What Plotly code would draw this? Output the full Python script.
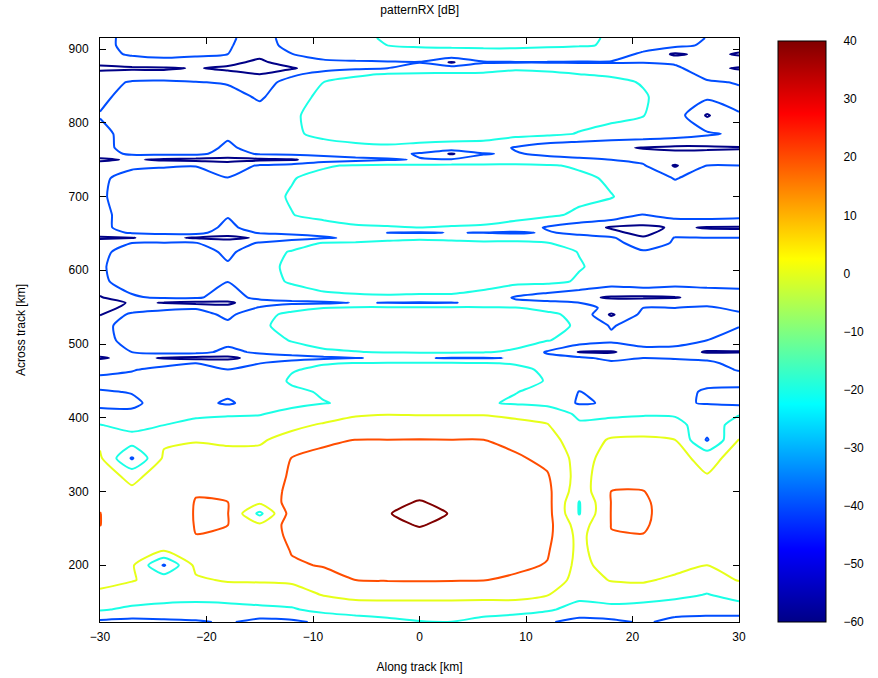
import plotly.graph_objects as go

# Along-track grid (km)
X = [-30, -27, -24, -21, -18, -15, -12, -9, -6, -3, 0, 3, 6, 9, 12, 15, 18, 21, 24, 27, 30]

# Across-track grid (km)
Y = [123, 140, 160, 180, 200, 220, 240, 255, 270, 285, 300, 320, 345, 370, 390, 405,
     420, 435, 450, 465, 474, 481, 489,
     505, 525, 540, 549, 556, 563,
     585, 605, 625, 637, 644, 651, 658,
     675, 700, 725, 742, 750, 758, 766,
     785, 810, 835, 855, 866, 874, 882, 893, 905, 915]

# patternRX [dB], one row per across-track value
Z = [
    [-44, -46, -44, -42, -38, -46, -44, -36, -32, -26, -21, -20.3, -28, -36, -38, -46, -44, -38, -44, -46, -50],
    [-18, -24, -26, -27, -26, -24, -22, -14, -9, -8, -8, -8, -9, -9, -17, -28, -26, -30, -34, -34, -30],
    [-4, -8, -12, -13, -12, -10, -8, 1, 5, 5, 5, 5, 5, 5, 1, -14, -10, -9, -14, -21, -12],
    [6, 1, -6, -3, 2, 2, 3, 14, 20, 21, 21.5, 21, 20.5, 17, 13, -8, 1, 2, -3, -8, 1],
    [10, 3, -42, 5, 8, 4, 18, 21, 26, 28, 29, 28, 26, 24, 19, -6, 8, 9, 5, 0, 8],
    [14, 6, 1, 13, 13, 6, 21, 26, 30, 33, 34, 33, 30, 28, 22, -5, 13, 14, 9, 4, 12],
    [18, 8, 5, 19.8, 18, 6, 25, 29.5, 33.5, 36.5, 38, 36.5, 33.5, 31, 25, -6, 19.5, 19.5, 11, 5, 14],
    [20.3, 9, 6, 21, 20.2, 3, 28, 31, 35, 38.3, 40.5, 38.3, 35, 32.5, 26.5, -10, 20.3, 22, 12, 5, 15],
    [20.3, 8, 4, 21.5, 20.5, -25, 29, 32, 36, 39.7, 42, 39.7, 36, 33, 27, -21, 20.6, 23, 12, 4, 15],
    [18, 6, 8, 20.8, 20.2, 3, 28, 31, 35, 38.3, 40.5, 38.3, 35, 32.5, 26.5, -21, 20.4, 22.5, 12, 4, 15],
    [14, 3, 10, 19, 18, 6, 26, 29.5, 33.5, 36, 38, 36, 33.5, 31, 25, -12, 20.2, 20.5, 11, 3, 14],
    [8, -4, 8, 13, 13, 6, 23, 26, 29.5, 31.5, 33, 31.5, 29.5, 27.5, 22, -8, 13, 14, 9, 1, 12],
    [3, -42, 3, 6, 6, 5, 20.5, 23, 24.5, 26, 27, 26, 24.5, 23, 15, -7, 7, 8, 5, -5, 6],
    [-4, -10, -3, -1, -3, -2, 6, 18, 20.1, 20.2, 20.5, 20.2, 20.1, 14, 7, -10, 2, 3, 0, -42, 0.5],
    [-19, -28, -20, -15, -12, -12, -4, 2, 7, 8, 8, 8, 7.5, 4, 1, -17, -12, -10, -14, -30, -12],
    [-34, -38, -28, -23, -22, -21, -14, -8, -2, -0.5, -1, -1, -1, -3, -6, -24, -24, -22, -22, -30, -21],
    [-45, -42, -36, -33, -43, -30, -25, -20.5, -18, -17, -17, -17, -18, -22, -26, -42, -38, -30, -38, -41, -45],
    [-41, -39.5, -33, -31, -35, -31, -23, -18.5, -16, -15, -15, -15, -16, -19.5, -24, -40.5, -34, -30, -35, -42, -43],
    [-36, -34, -31, -30, -34, -30, -18, -15, -14, -13, -13, -13, -14, -15, -20.8, -32, -30, -29, -32, -36, -36],
    [-44, -41, -35, -33, -39.5, -32, -21, -17, -15.5, -15, -15, -15, -15.5, -17, -22, -31, -32, -30, -33, -37, -40.5],
    [-50, -45, -45, -40, -48, -40.5, -30, -21, -19.5, -18.5, -18.5, -18.5, -19, -21, -27, -33, -36, -33, -36, -38, -43],
    [-62, -55, -61.5, -66, -65, -52, -50, -45, -40.3, -39, -39, -41, -41.5, -39, -35, -36, -45, -40, -41, -42, -46],
    [-52, -40, -34, -33, -46, -36, -28, -22, -20.5, -19, -18, -18, -19, -22, -42, -61, -62, -50, -50, -62, -61],
    [-45, -35, -30, -29, -33, -28, -19, -15, -14, -13.5, -13.5, -13.5, -14, -15, -19, -28, -35, -28, -30, -40, -48],
    [-45, -33, -29, -28, -35, -22, -16, -13, -12, -11.5, -11.5, -11.5, -12, -13, -15, -22, -42, -29, -30, -37, -39],
    [-61, -35, -31, -31, -45, -24, -17, -14, -13, -12.5, -12.5, -12.5, -13, -14, -17, -24, -63, -35, -33, -36, -38],
    [-66, -55, -45, -42, -55, -38, -24, -20, -17, -16.5, -16.5, -16.5, -17, -19, -24, -33, -45, -40, -40, -38, -43],
    [-68, -58, -60.5, -66, -63, -50, -45, -44, -39, -40.5, -41.5, -40.5, -38, -36, -35, -40, -52, -48, -46, -44, -46],
    [-62, -42, -38, -37, -50, -34, -30, -23, -22, -21.5, -22, -22, -26, -42, -50, -56, -62, -63, -61, -55, -52],
    [-43, -33, -30, -29, -39.5, -27, -18, -15, -13.5, -13, -13, -13, -13, -14, -15, -22, -30, -25, -30, -30, -30],
    [-42, -32, -29, -28, -37, -25, -17, -13.5, -12.5, -12, -12, -12, -12, -12.5, -13.5, -19, -25, -24, -28, -29, -30],
    [-44, -33, -30, -29, -45, -26, -19, -14.5, -13.5, -13, -13, -13, -13, -13.5, -14.5, -20.5, -29, -38, -30, -31, -32],
    [-50, -40, -39, -39, -52, -38, -27, -19, -17, -16.5, -16.5, -16.5, -17, -17.5, -19.5, -28, -33, -50, -38, -36, -36],
    [-63, -60.5, -56, -62, -64, -58, -50, -42, -37, -25, -22, -24, -27, -25, -26, -33, -37, -58, -39, -40, -40],
    [-48, -38, -34, -33, -52, -38, -35, -34, -30, -40.5, -41.5, -39.5, -40.5, -43, -38, -45, -55, -66, -50, -56, -55],
    [-45, -32, -28, -27, -46, -28, -24, -27, -22, -21, -20, -21, -22, -28, -42, -50, -62, -64, -58, -61, -62],
    [-43, -35, -31, -30, -38, -28, -20.5, -15, -13, -12.5, -12, -12, -12.5, -13, -16, -24, -25, -41, -32, -30, -32],
    [-42, -33, -29, -28, -36, -26, -18.5, -13.5, -12, -11.5, -11, -11, -11, -11.5, -12.5, -15, -19.5, -25, -30, -29, -30],
    [-43, -34, -30, -29, -39.5, -27, -21, -14.5, -13, -12.5, -12, -12, -12, -12.5, -13.5, -17, -22, -30, -41, -33, -33],
    [-52, -43, -42, -41, -50, -38, -33, -22, -18, -17, -16.5, -16.5, -16.5, -17, -18.5, -22, -30, -38, -62, -40, -40],
    [-63, -58, -63, -66, -66, -64, -62, -52, -46, -41.5, -39, -38, -34, -30, -32, -36, -40, -45, -45, -44, -45],
    [-50, -36, -36, -35, -48, -38, -35, -33, -30, -34, -42, -62, -41, -38, -45, -48, -50, -55, -55, -55, -57],
    [-45, -34, -31, -30, -44, -31, -28, -25, -23, -22, -24, -26, -27, -42, -52, -55, -57, -61, -64, -63, -61],
    [-45, -33, -30, -29, -36, -29, -22, -17, -14.5, -13.5, -13, -13, -13, -13.5, -16, -21, -26, -27, -30, -37, -44],
    [-39, -31, -29, -28, -32, -30, -22, -15, -12.5, -12, -11.5, -11.5, -11.5, -11.5, -12, -13, -15.5, -19.5, -30, -62, -41],
    [-44, -33, -30, -29, -31, -43, -25, -17, -13.5, -12.5, -12, -12, -12, -12, -12, -12.5, -14, -18.5, -27, -36, -36],
    [-48, -38, -36, -39, -42, -52, -30, -20, -16, -15, -14.5, -14.5, -14.5, -14.5, -14.5, -15, -16.5, -21, -30, -38, -41],
    [-55, -52, -55, -58, -55, -60, -45, -30, -22, -19, -18, -18, -18, -18, -18.5, -20, -22, -26, -32, -45, -52],
    [-64, -63, -62, -59, -63, -68, -62, -50, -44, -40, -30, -28, -26, -21, -22, -24, -27, -30, -35, -55, -62],
    [-55, -48, -45, -48, -55, -64, -50, -45, -43, -42, -41, -62, -42, -41, -41, -42, -42, -41, -44, -48, -50],
    [-45, -38, -36, -37, -40, -55, -40.5, -30, -27, -25, -24, -24, -23, -23, -23.5, -24, -27, -45, -63, -55, -62],
    [-44, -36, -33, -33, -38, -50, -33, -26, -22, -20, -19, -18.5, -18.5, -18.5, -19, -19.5, -20.5, -28, -35, -43, -52],
    [-45, -35, -32, -32, -37, -48, -32, -24, -22, -19, -18, -17.5, -17.5, -17.5, -18, -19, -20.5, -27, -33, -40.5, -55],
]

LEVELS = dict(start=-60, end=40, size=20)
CBAR_TICKS = [-60, -50, -40, -30, -20, -10, 0, 10, 20, 30, 40]

JET = [
    [0.0, "rgb(0,0,135)"],
    [0.125, "rgb(0,0,255)"],
    [0.375, "rgb(0,255,255)"],
    [0.625, "rgb(255,255,0)"],
    [0.875, "rgb(255,0,0)"],
    [1.0, "rgb(128,0,0)"],
]

FONT = "Liberation Sans, Arial, sans-serif"

fig = go.Figure()

# invisible heatmap of the same data, only to carry the continuous colour bar
fig.add_trace(go.Heatmap(
    x=X, y=Y, z=Z, zmin=-60, zmax=40, colorscale=JET, opacity=0,
    hoverinfo="skip", showscale=True,
    colorbar=dict(
        thickness=48, thicknessmode="pixels",
        len=0.995, lenmode="fraction", y=0.0, yanchor="bottom",
        x=1.0605, xanchor="left", xpad=0, ypad=0,
        outlinewidth=1, outlinecolor="black",
        tickvals=CBAR_TICKS, ticks="outside", ticklen=15,
        tickcolor="rgba(0,0,0,0)",
        tickfont=dict(family=FONT, size=12, color="black"),
    ),
))

fig.add_trace(go.Contour(
    x=X, y=Y, z=Z,
    autocontour=False, contours=dict(coloring="lines", **LEVELS),
    colorscale=JET, showscale=False,
    line=dict(width=2, smoothing=0.6),
    hoverinfo="skip",
))

fig.update_layout(
    width=878, height=678,
    margin=dict(l=100, r=139, t=38, b=56, autoexpand=False),
    paper_bgcolor="white", plot_bgcolor="white",
    font=dict(family=FONT, size=12, color="black"),
    title=dict(text="patternRX [dB]", x=0.478, xanchor="center",
               y=0.985, yanchor="middle", yref="container",
               font=dict(family=FONT, size=12, color="black")),
    showlegend=False,
)

fig.update_xaxes(
    range=[-30, 30], tickvals=[-30, -20, -10, 0, 10, 20, 30],
    ticks="inside", ticklen=6, tickcolor="black", mirror="ticks",
    showline=True, linecolor="black", linewidth=1, showgrid=False, zeroline=False,
    ticklabelstandoff=4, automargin=False,
    title=dict(text="Along track [km]", standoff=19, font=dict(size=12)),
    tickfont=dict(size=12),
)
fig.update_yaxes(
    range=[123, 915], tickvals=[200, 300, 400, 500, 600, 700, 800, 900],
    ticks="inside", ticklen=6, tickcolor="black", mirror="ticks",
    showline=True, linecolor="black", linewidth=1, showgrid=False, zeroline=False,
    ticklabelstandoff=8, automargin=False,
    title=dict(text="Across track [km]", standoff=40, font=dict(size=12)),
    tickfont=dict(size=12),
)

fig.write_html("out.html")
